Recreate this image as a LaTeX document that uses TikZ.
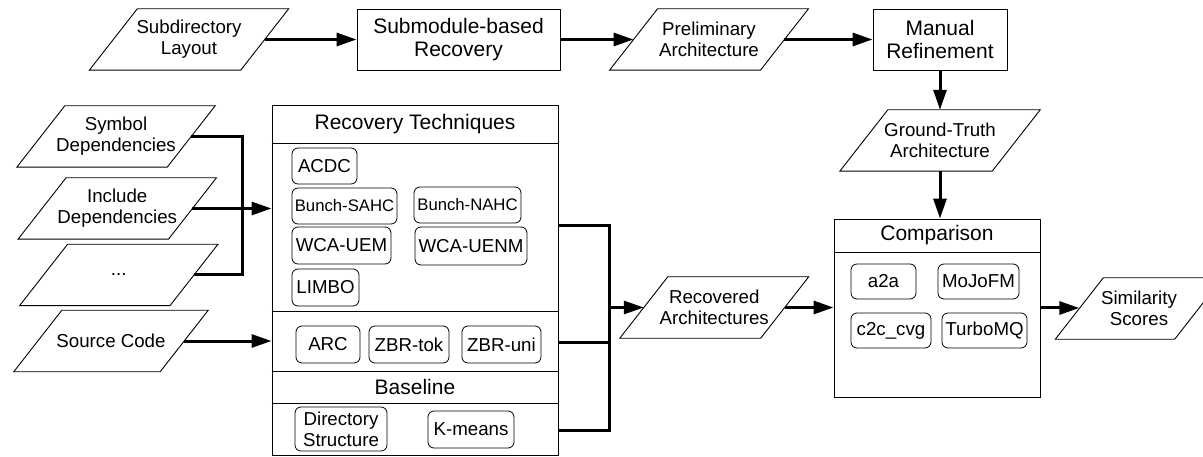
\documentclass[tikz,border=0pt]{standalone}
\usepackage{fontspec}
\setmainfont{Liberation Sans}
\usetikzlibrary{arrows.meta,calc}

\begin{document}
\begin{tikzpicture}[x=1pt,y=-1pt,
  every node/.style={font=\fontsize{18.7}{21}\selectfont, align=center, inner sep=0pt},
  head/.style={font=\fontsize{21}{22.5}\selectfont},
  small/.style={font=\fontsize{16.7}{18}\selectfont},
  procbox/.style={draw, line width=0.9pt, minimum width=#1, minimum height=61pt},
  para/.style={minimum width=#1, minimum height=61pt},
  rbox/.style={draw, line width=0.8pt, rounded corners=6pt, minimum width=#1, minimum height=37pt},
  frame/.style={draw, line width=0.9pt},
  rule/.style={line width=0.9pt},
  conn/.style={line width=3pt},
  arr/.style={line width=3pt, -{Triangle[length=20pt,width=13pt]}},
]
\useasboundingbox (0,0) rectangle (1203,457);
\clip (0,0) rectangle (1203,457);
\fill[white] (0,0) rectangle (1203,457);

% ---- top row: ground-truth pipeline ----
\node[para=151] (sub) at (189,39.5) {Subdirectory\\Layout};
\node[procbox=203, head] (smr) at (458.5,39.5) {Submodule-based\\Recovery};
\node[para=150.5] (pre) at (709,39.5) {Preliminary\\Architecture};
\node[procbox=134, head] (man) at (940,39.5) {Manual\\Refinement};
\node[para=152] (gt) at (940,140.5) {Ground-Truth\\Architecture};

% ---- inputs ----
\node[para=150] (sym) at (116,136.5) {Symbol\\Dependencies};
\node[para=150] (inc) at (117.25,208.5) {Include\\Dependencies};
\node[para=150] (dots) at (118.75,275) {...};
\node[para=146] (src) at (111,341) {Source Code};

% ---- recovery techniques panel ----
\node[frame, minimum width=286pt, minimum height=350pt] (rt) at (415,280) {};
\node[head] (rtt) at (415,124) {Recovery Techniques};
\node[head] (bl) at (415,387) {Baseline};
\draw[rule] (rt.west |- 0,143) -- (rt.east |- 0,143);
\draw[rule] (rt.west |- 0,311) -- (rt.east |- 0,311);
\draw[rule] (rt.west |- 0,371) -- (rt.east |- 0,371);
\draw[rule] (rt.west |- 0,403) -- (rt.east |- 0,403);

\node[rbox=65, minimum height=36pt] (acdc) at (324.5,166) {ACDC};
\node[rbox=105, minimum height=36pt, small] (bs) at (344.5,206) {Bunch-SAHC};
\node[rbox=107, minimum height=36pt, small] (bn) at (467.5,205) {Bunch-NAHC};
\node[rbox=99] (wu) at (341.5,245.5) {WCA-UEM};
\node[rbox=112, minimum height=38pt] (wn) at (471,246) {WCA-UENM};
\node[rbox=67] (limbo) at (325.5,287.5) {LIMBO};
\node[rbox=64] (arc) at (328,344.5) {ARC};
\node[rbox=80] (zt) at (409,344.5) {ZBR-tok};
\node[rbox=79] (zu) at (501.5,344.5) {ZBR-uni};
\node[rbox=92, minimum height=44pt] (dir) at (341,429) {Directory\\Structure};
\node[rbox=86] (km) at (471,429.5) {K-means};

% ---- recovered architectures and comparison ----
\node[para=140.5] (rec) at (714.25,307.5) {Recovered\\Architectures};
\node[frame, minimum width=206pt, minimum height=178pt] (cmp) at (937,308) {};
\node[head] (cmpt) at (937,235.5) {Comparison};
\draw[rule] (cmp.west |- 0,252) -- (cmp.east |- 0,252);
\node[rbox=65, minimum height=35pt] (a2a) at (883.5,281.5) {a2a};
\node[rbox=81, minimum height=35pt] (mojo) at (978.5,281.5) {MoJoFM};
\node[rbox=80, minimum height=35pt] (c2c) at (891,330.5) {c2c\_cvg};
\node[rbox=85, minimum height=35pt] (tmq) at (984.5,330.5) {TurboMQ};
\node[para=119] (sim) at (1139,308.5) {Similarity\\Scores};

% ---- slanted data outlines ----
\foreach \n in {sub,pre,gt,sym,inc,dots,src,rec,sim}
  \draw[rule] ([xshift=24pt]\n.north west) -- ([xshift=24pt]\n.north east)
    -- ([xshift=-24pt]\n.south east) -- ([xshift=-24pt]\n.south west) -- cycle;

% ---- connectors ----
\draw[arr] (sub.east) -- (smr.west);
\draw[arr] (smr.east) -- (pre.west);
\draw[arr] (pre.east) -- (man.west);
\draw[arr] (man.south) -- (gt.north);
\draw[arr] (gt.south) -- (gt.south |- cmp.north);

\coordinate (jL) at (242,208.5);
\draw[conn] (sym.east) -| (jL) |- (dots.east);
\draw[arr] (inc.east) -- (inc.east -| rt.west);
\draw[arr] (src.east) -- (src.east -| rt.west);

\coordinate (o1) at (558,226);
\coordinate (o2) at (558,342);
\coordinate (o3) at (558,430);
\coordinate (jR) at (609,307.5);
\draw[conn] (o1) -- (o1 -| jR) |- (o3);
\draw[conn] (o2) -- (o2 -| jR);
\draw[arr] (jR) -- (rec.west);
\draw[arr] (rec.east) -- (rec.east -| cmp.west);
\draw[arr] (cmp.east) -- (cmp.east -| sim.west);
\end{tikzpicture}
\end{document}
